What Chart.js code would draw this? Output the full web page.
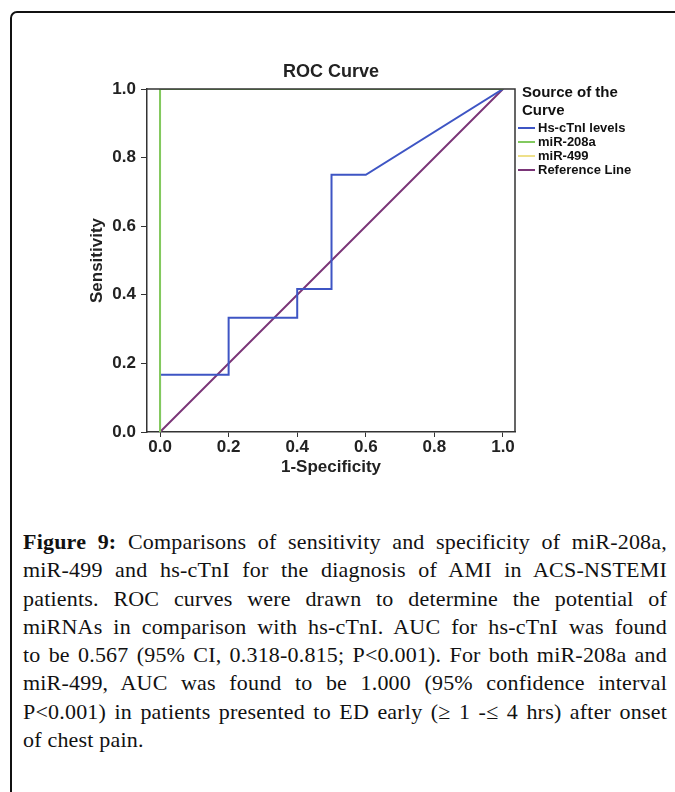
<!DOCTYPE html>
<html>
<head>
<meta charset="utf-8">
<script src="https://cdn.jsdelivr.net/npm/chart.js@4"></script>
<style>
  html, body { margin: 0; padding: 0; background: #fff; width: 675px; height: 792px; overflow: hidden; }
  #frame {
    position: absolute; left: 10px; top: 11px; width: 800px; height: 900px;
    border: 2px solid #111; border-top-left-radius: 7px; box-sizing: border-box;
  }
  #chartWrap { position: absolute; left: 0; top: 0; width: 675px; height: 500px; }
  #caption {
    position: absolute; left: 23px; top: 528px; width: 644px;
    font-family: "Liberation Serif", "Times New Roman", serif; font-size: 22px;
    line-height: 28.3px; color: #111; letter-spacing: 0.2px;
  }
  #caption div { text-align: justify; text-align-last: justify; }
  #caption div.last { text-align: left; text-align-last: left; }
  #caption b { font-weight: bold; }
</style>
</head>
<body>
<div id="frame"></div>
<div id="chartWrap"><canvas id="roc" width="675" height="500"></canvas></div>
<div id="caption">
  <div><b>Figure 9:</b> Comparisons of sensitivity and specificity of miR-208a,</div>
  <div>miR-499 and hs-cTnI for the diagnosis of AMI in ACS-NSTEMI</div>
  <div>patients. ROC curves were drawn to determine the potential of</div>
  <div>miRNAs in comparison with hs-cTnI. AUC for hs-cTnI was found</div>
  <div>to be 0.567 (95% CI, 0.318-0.815; P&lt;0.001). For both miR-208a and</div>
  <div>miR-499, AUC was found to be 1.000 (95% confidence interval</div>
  <div>P&lt;0.001) in patients presented to ED early (≥ 1 -≤ 4 hrs) after onset</div>
  <div class="last">of chest pain.</div>
</div>
<script>
// ROC points
const hsX = [0, 0, 0.2, 0.2, 0.4, 0.4, 0.5, 0.5, 0.6, 1.0];
const hsY = [0, 0.167, 0.167, 0.333, 0.333, 0.417, 0.417, 0.75, 0.75, 1.0];
const mir208aX = [0, 0, 1.0];
const mir208aY = [0, 1.0, 1.0];
const mir499X = [0, 0, 1.0];
const mir499Y = [0, 1.0, 1.0];
const refX = [0, 1.0];
const refY = [0, 1.0];

const seriesLabels = ["Hs-cTnI levels", "miR-208a", "miR-499", "Reference Line"];
const xTicks = [0, 0.2, 0.4, 0.6, 0.8, 1.0];
const yTicks = [0, 0.2, 0.4, 0.6, 0.8, 1.0];
const legendTitle = ["Source of the", "Curve"];

const FONT = "'Liberation Sans', Arial, sans-serif";

function pts(xs, ys) {
  return xs.map((x, i) => ({ x: x, y: ys[i] }));
}

// top + right border of the plot box
const boxPlugin = {
  id: "box",
  afterDatasetsDraw(chart) {
    const { ctx, chartArea: a } = chart;
    ctx.save();
    ctx.strokeStyle = "#333";
    ctx.lineWidth = 1.5;
    ctx.beginPath();
    ctx.moveTo(a.left, a.top);
    ctx.lineTo(a.right, a.top);
    ctx.lineTo(a.right, a.bottom);
    ctx.stroke();
    ctx.restore();
  },
};

// legend to the right, SPSS style
const legendPlugin = {
  id: "sideLegend",
  afterDraw(chart) {
    const ctx = chart.ctx;
    const x0 = chart.chartArea.right + 3;
    ctx.save();
    ctx.fillStyle = "#111";
    ctx.textBaseline = "middle";
    ctx.textAlign = "left";
    ctx.font = "bold 15px " + FONT;
    legendTitle.forEach((t, i) => ctx.fillText(t, x0 + 4, 93 + i * 18));
    ctx.font = "bold 13px " + FONT;
    chart.data.datasets.forEach((ds, i) => {
      const y = 128 + i * 14;
      ctx.strokeStyle = ds.borderColor;
      ctx.lineWidth = 2;
      ctx.beginPath();
      ctx.moveTo(x0, y);
      ctx.lineTo(x0 + 17, y);
      ctx.stroke();
      ctx.fillText(ds.label, x0 + 20, y);
    });
    ctx.restore();
  },
};

const tickFont = { family: FONT, size: 17, weight: "bold" };

new Chart(document.getElementById("roc"), {
  type: "scatter",
  data: {
    datasets: [
      { label: seriesLabels[0], data: pts(hsX, hsY), borderColor: "#3e55c4", order: 2 },
      { label: seriesLabels[1], data: pts(mir208aX, mir208aY), borderColor: "#82c95f", order: 0 },
      { label: seriesLabels[2], data: pts(mir499X, mir499Y), borderColor: "#eee08a", order: 1 },
      { label: seriesLabels[3], data: pts(refX, refY), borderColor: "#7a3577", order: 3 },
    ].map((d) => Object.assign(d, {
      showLine: true,
      borderWidth: 2,
      pointRadius: 0,
      pointHoverRadius: 0,
      tension: 0,
    })),
  },
  options: {
    responsive: false,
    animation: false,
    layout: { padding: { left: 0, right: 160, top: 0, bottom: 0 } },
    plugins: {
      legend: { display: false },
      tooltip: { enabled: false },
      title: {
        display: true,
        fullSize: false,
        text: "ROC Curve",
        color: "#222",
        font: { family: FONT, size: 18, weight: "bold" },
        padding: { top: 61, bottom: 6.4 },
      },
    },
    scales: {
      x: {
        type: "linear",
        min: -0.038,
        max: 1.035,
        afterBuildTicks: (s) => { s.ticks = xTicks.map((v) => ({ value: v })); },
        afterFit: (s) => { s.height = 68; },
        ticks: {
          font: tickFont,
          color: "#222",
          padding: 0,
          maxRotation: 0,
          callback: (v) => v.toFixed(1),
        },
        grid: { drawOnChartArea: false, drawTicks: true, tickLength: 5, color: "#333" },
        border: { display: true, color: "#333", width: 1.5 },
        title: {
          display: true,
          text: "1-Specificity",
          color: "#222",
          font: tickFont,
          padding: { top: 0, bottom: 22.5 },
        },
      },
      y: {
        type: "linear",
        min: 0,
        max: 1,
        afterBuildTicks: (s) => { s.ticks = yTicks.map((v) => ({ value: v })); },
        afterFit: (s) => { s.width = 147; },
        ticks: {
          font: tickFont,
          color: "#222",
          padding: 5,
          callback: (v) => v.toFixed(1),
        },
        grid: { drawOnChartArea: false, drawTicks: true, tickLength: 6, color: "#333" },
        border: { display: true, color: "#333", width: 1.5 },
        title: {
          display: true,
          text: "Sensitivity",
          color: "#222",
          font: tickFont,
          padding: { top: 87, bottom: 0 },
        },
      },
    },
  },
  plugins: [boxPlugin, legendPlugin],
});
</script>
</body>
</html>
